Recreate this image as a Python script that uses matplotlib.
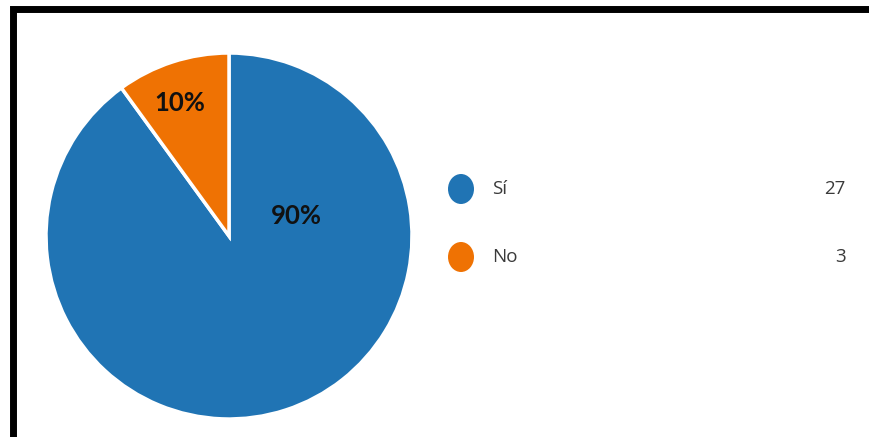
import matplotlib.pyplot as plt
from matplotlib.patches import Ellipse, Rectangle

answers = ["Sí", "No"]
counts = [27, 3]
colors = ["#2074b4", "#ef7203"]

W, H = 870, 437

fig = plt.figure(figsize=(W / 100, H / 100), dpi=100)
ax = fig.add_axes([0, 0, 1, 1])

# pie, clockwise from 12 o'clock
wedges, _ = ax.pie(counts, colors=colors, startangle=90, counterclock=False,
                   center=(229, H - 236), radius=183,
                   wedgeprops=dict(edgecolor="white", linewidth=2.5))

total = sum(counts)
pcts = [f"{round(c / total * 100)}%" for c in counts]
label_pos = [(296, H - 216), (180, H - 103)]
for txt, (x, y) in zip(pcts, label_pos):
    ax.text(x, y, txt, ha="center", va="center", fontsize=18.5,
            fontweight="bold", family="Lato", color="#111111")

# legend rows
for i, (name, n, col) in enumerate(zip(answers, counts, colors)):
    y = H - 189 - i * 68
    ax.add_patch(Ellipse((461, y), 26, 30, color=col, lw=0))
    ax.text(492, y, name, ha="left", va="center", fontsize=13.5,
            family="Open Sans", color="#3a3a3a")
    ax.text(846, y, str(n), ha="right", va="center", fontsize=13.5,
            family="Open Sans", color="#3a3a3a")

# black frame (top and left edges visible)
ax.add_patch(Rectangle((13.5, -60), 1000, H - 8.5 + 60, fill=False,
                       edgecolor="black", linewidth=5))

ax.set_xlim(0, W)
ax.set_ylim(0, H)
ax.set_aspect("auto")
ax.axis("off")

fig.savefig("out.png", dpi=100)
